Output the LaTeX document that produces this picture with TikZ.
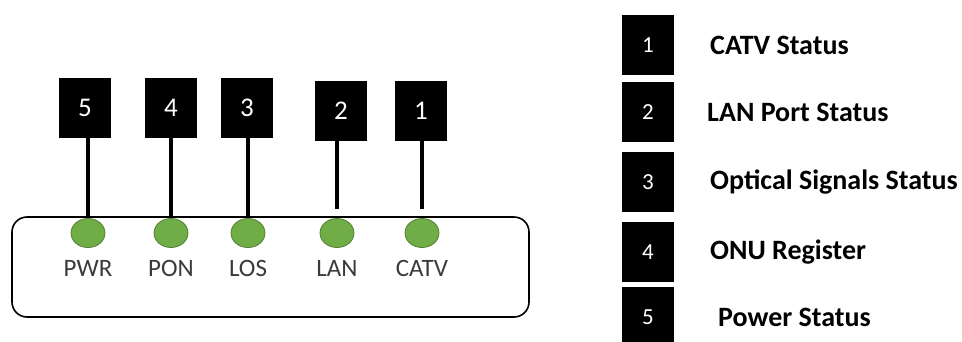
\documentclass[tikz,border=0pt]{standalone}
\usepackage{fontspec}
\setmainfont{Carlito}
\usetikzlibrary{positioning,shapes.geometric}
\definecolor{ledgreen}{HTML}{70AD47}
\definecolor{ledrim}{HTML}{507E32}
\definecolor{labelgray}{HTML}{3A3A3A}
\tikzset{
  numbox/.style={fill=black,text=white,minimum width=52pt,minimum height=60pt,inner sep=0pt,font=\fontsize{27}{27}\selectfont},
  led/.style={ellipse,fill=ledgreen,draw=ledrim,line width=0.8pt,minimum width=34pt,minimum height=29pt,inner sep=0pt},
  ledlabel/.style={text=labelgray,inner sep=0pt,font=\fontsize{25}{25}\selectfont},
  legendtext/.style={anchor=west,inner sep=0pt,font=\bfseries\fontsize{28}{28}\selectfont},
  wire/.style={line width=3.2pt}
}
\begin{document}
\begin{tikzpicture}[x=1pt,y=-1pt]
\useasboundingbox (0,0) rectangle (962,341);
% ONU front panel
\draw[line width=1.6pt,rounded corners=15pt](12,217) rectangle (529,317);
\foreach \n/\bx/\by/\lx/\lbl/\gap in {5/85/108/88/PWR/0,4/171/108/171/PON/0,3/247/108/248/LOS/0,2/341/111/337/LAN/9,1/421/111/422/CATV/9}{
  \node[numbox](num\n) at (\bx,\by){\n};
  \node[led](led\n) at (\lx,233){};
  \node[ledlabel](lbl\n) at ([yshift=-35pt]led\n.center){\lbl};
  \draw[wire,shorten <=\gap pt](led\n.north)--(led\n.north |- num\n.south);
}
% legend
\foreach \n/\y/\dx/\txt in {1/45/710/CATV Status,2/112/707/LAN Port Status,3/182/710/Optical Signals Status,4/252/710/ONU Register,5/317/718/Power Status}{
  \node[numbox,font=\fontsize{23}{23}\selectfont](key\n) at (648,\y){\n};
  \node[legendtext](desc\n) at (\dx,\y){\txt};
}
\end{tikzpicture}
\end{document}
